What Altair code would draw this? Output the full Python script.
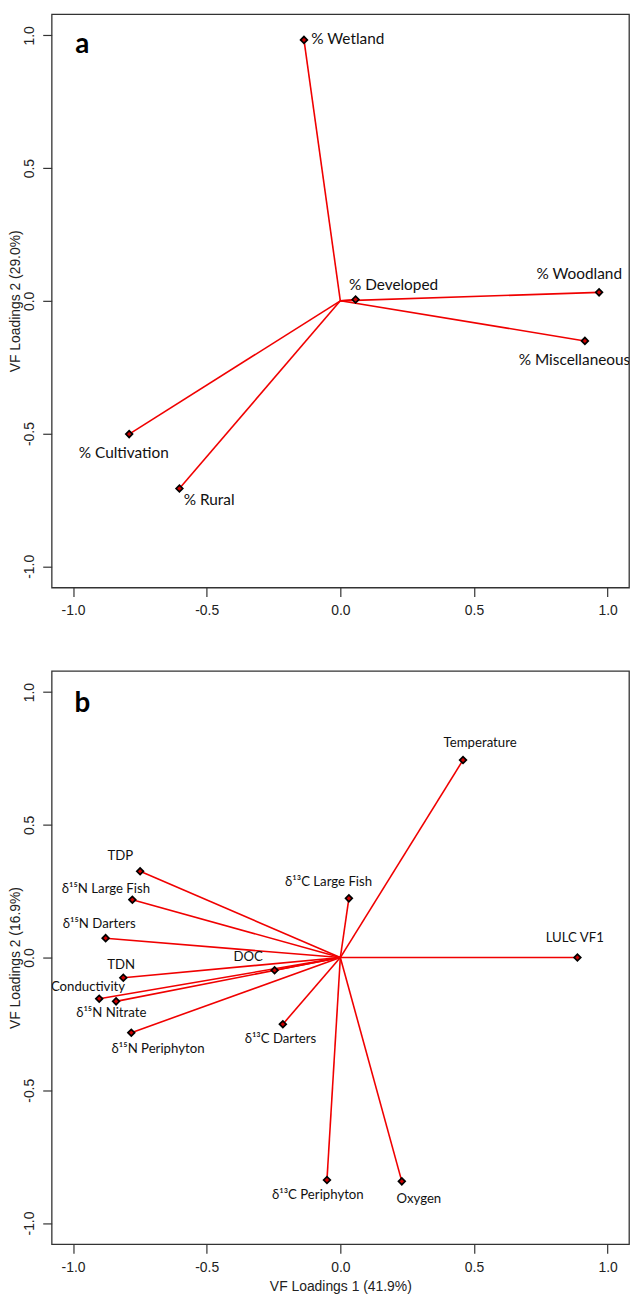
import altair as alt
import pandas as pd

# ---------------- data ----------------
ticks = [-1.0, -0.5, 0.0, 0.5, 1.0]

a_names = ["% Wetland", "% Developed", "% Woodland", "% Miscellaneous", "% Cultivation", "% Rural"]
a_x = [-0.136, 0.057, 0.968, 0.915, -0.790, -0.602]
a_y = [0.983, 0.005, 0.032, -0.151, -0.502, -0.707]
a_lx = [0.028, 0.199, 0.894, 0.876, -0.810, -0.491]
a_ly = [0.988, 0.061, 0.102, -0.223, -0.573, -0.751]

b_names = ["Temperature", "LULC VF1", "δ¹³C Large Fish", "TDP", "δ¹⁵N Large Fish",
           "δ¹⁵N Darters", "DOC", "TDN", "Conductivity", "δ¹⁵N Nitrate",
           "δ¹⁵N Periphyton", "δ¹³C Darters", "δ¹³C Periphyton", "Oxygen"]
b_x = [0.459, 0.887, 0.032, -0.749, -0.778, -0.878, -0.246, -0.812, -0.902, -0.839,
       -0.782, -0.215, -0.050, 0.230]
b_y = [0.744, 0.000, 0.223, 0.325, 0.218, 0.073, -0.048, -0.076, -0.155, -0.165,
       -0.283, -0.251, -0.838, -0.843]
b_lx = [0.523, 0.877, -0.044, -0.823, -0.877, -0.902, -0.345, -0.820, -0.944, -0.857,
        -0.682, -0.224, -0.084, 0.294]
b_ly = [0.809, 0.073, 0.283, 0.383, 0.260, 0.128, 0.001, -0.030, -0.112, -0.210,
        -0.343, -0.306, -0.893, -0.911]

panel_letters = ["a", "b"]
letter_x = [-0.965, -0.965]
letter_y = [0.965, 0.955]

x_titles = [None, "VF Loadings 1 (41.9%)"]
y_titles = ["VF Loadings 2 (29.0%)", "VF Loadings 2 (16.9%)"]

DOM = [-1.08, 1.08]
W, H = 582, 578
RED = "#f00000"
AXIS_FONT = "Liberation Sans"
LABEL_FONT = "Lato"

label_expr = ("datum.value < 0 ? '-' + format(-datum.value, '.1f') : format(datum.value, '.1f')")


def make_axis(orient):
    common = dict(values=ticks, domain=False, grid=False, ticks=True, tickSize=9,
                  tickColor="#333333", tickWidth=1.2, labelFont=AXIS_FONT,
                  labelFontSize=14, labelColor="#222222", labelExpr=label_expr,
                  titleFont=AXIS_FONT, titleFontSize=14, titleFontWeight="normal",
                  titleColor="#222222")
    if orient == "y":
        return alt.Axis(labelAngle=270, labelAlign="center", labelBaseline="bottom",
                        labelPadding=6, titlePadding=0, **common)
    return alt.Axis(labelPadding=7, titlePadding=6, **common)


def panel(names, xs, ys, lxs, lys, idx, label_size):
    df = pd.DataFrame({"name": names, "x": xs, "y": ys, "lx": lxs, "ly": lys})
    df["x0"] = 0.0
    df["y0"] = 0.0
    sx = alt.Scale(domain=DOM, nice=False, zero=False)
    sy = alt.Scale(domain=DOM, nice=False, zero=False)
    xt = x_titles[idx]
    yt = y_titles[idx]

    def X(f):
        return alt.X(f, scale=sx, axis=make_axis("x"), title=xt)

    def Y(f):
        return alt.Y(f, scale=sy, axis=make_axis("y"), title=yt)

    base = alt.Chart(df)
    seg = base.mark_rule(color=RED, strokeWidth=1.6).encode(
        x=X("x0:Q"), y=Y("y0:Q"), x2="x:Q", y2="y:Q")
    pts = base.mark_point(shape="diamond", filled=True, fill="#d00000", stroke="#000000",
                          strokeWidth=1.7, size=46, opacity=1).encode(
        x=X("x:Q"), y=Y("y:Q"))
    lbl = base.mark_text(font=LABEL_FONT, fontSize=label_size, color="#111111",
                         align="center", baseline="middle", clip=True).encode(
        x=X("lx:Q"), y=Y("ly:Q"), text="name:N")
    ldf = pd.DataFrame({"t": [panel_letters[idx]], "x": [letter_x[idx]], "y": [letter_y[idx]]})
    let = alt.Chart(ldf).mark_text(font=LABEL_FONT, fontSize=28, fontWeight="bold",
                                   color="#000000", align="center", baseline="middle").encode(
        x=X("x:Q"), y=Y("y:Q"), text="t:N")
    return alt.layer(seg, pts, lbl, let).properties(width=W, height=H)


pa = panel(a_names, a_x, a_y, a_lx, a_ly, 0, 15.5)
pb = panel(b_names, b_x, b_y, b_lx, b_ly, 1, 13.3)

chart = alt.vconcat(pa, pb, spacing=52).properties(
    padding={"left": 0, "top": 0, "right": 0, "bottom": 0}
).configure_view(stroke="#333333", strokeWidth=1.3)

chart.save("out.html", embed_options={"renderer": "svg", "actions": False})
